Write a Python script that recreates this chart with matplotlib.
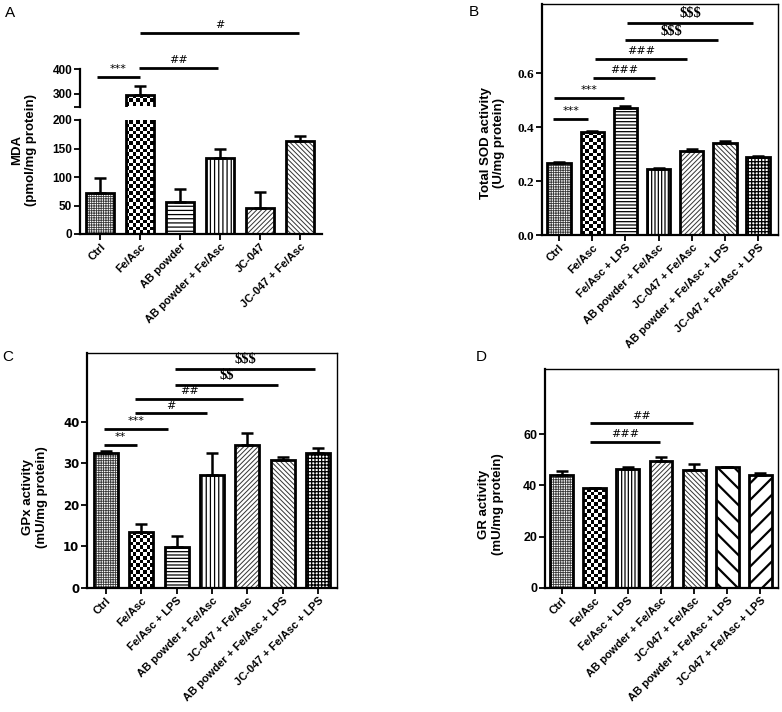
import numpy as np
import matplotlib
matplotlib.use('Agg')
import matplotlib.pyplot as plt

# ---------------- data ----------------
a_cats = ['Ctrl', 'Fe/Asc', 'AB powder', 'AB powder + Fe/Asc', 'JC-047', 'JC-047 + Fe/Asc']
a_mda = [72, 298, 57, 133, 46, 164]
a_mda_err = [26, 36, 22, 16, 28, 8]

cats7 = ['Ctrl', 'Fe/Asc', 'Fe/Asc + LPS', 'AB powder + Fe/Asc', 'JC-047 + Fe/Asc',
         'AB powder + Fe/Asc + LPS', 'JC-047 + Fe/Asc + LPS']
b_sod = [0.265, 0.383, 0.472, 0.244, 0.311, 0.342, 0.290]
b_sod_err = [0.005, 0.003, 0.006, 0.003, 0.007, 0.006, 0.004]
c_gpx = [32.4, 13.5, 9.9, 27.2, 34.5, 30.8, 32.5]
c_gpx_err = [0.6, 2.0, 2.5, 5.3, 2.8, 0.8, 1.2]
d_gr = [44.0, 38.9, 46.3, 49.6, 46.2, 47.1, 44.2]
d_gr_err = [1.6, 0.3, 0.8, 1.5, 2.2, 0.3, 0.6]

# significance brackets: (from, to, level, label)
a_sig = [(-0.08, 1.0, 368, '***'), (0.98, 2.95, 404, '##'), (1.0, 4.98, 544, '#')]
b_sig = [(-0.17, 0.88, 0.430, '***'), (-0.15, 1.96, 0.508, '***'),
         (1.03, 2.89, 0.581, '###'), (1.085, 3.85, 0.653, '###'),
         (1.99, 4.80, 0.721, '$$$'), (2.04, 5.86, 0.787, '$$$')]
c_sig = [(-0.05, 0.87, 34.4, '**'), (-0.05, 1.77, 38.2, '***'),
         (0.83, 2.85, 42.0, '#'), (0.83, 3.88, 45.5, '##'),
         (1.96, 4.87, 48.8, '$$'), (1.96, 5.91, 52.7, '$$$')]
d_sig = [(0.86, 2.96, 57.0, '###'), (0.86, 3.96, 64.3, '##')]

# ---------------- styles ----------------
CTRL = dict(hatch='+++++++', hc='#3a3a3a', hlw=0.6)
CHECK = dict(checker=True)
HLINE = dict(hatch='-----', hc='k', hlw=0.9)
HLINE_A = dict(hatch='----', hc='k', hlw=0.9)
VLINE = dict(hatch='||||', hc='k', hlw=0.9)
VLINE5 = dict(hatch='|||||', hc='k', hlw=0.9)
FINE_F = dict(hatch='///////', hc='#333333', hlw=0.7)
FINE_B = dict(hatch='\\\\\\\\\\\\\\', hc='#333333', hlw=0.7)
GRID = dict(hatch='+++++', hc='k', hlw=0.9)
WIDE_B = dict(hatch='\\\\', hc='k', hlw=1.6)
WIDE_F = dict(hatch='//', hc='k', hlw=1.6)

a_styles = [CTRL, CHECK, HLINE_A, VLINE, FINE_F, FINE_B]
b_styles = [CTRL, CHECK, HLINE, VLINE5, FINE_F, FINE_B, GRID]
c_styles = [CTRL, CHECK, HLINE, VLINE, FINE_F, FINE_B, GRID]
d_styles = [CTRL, CHECK, VLINE5, FINE_F, FINE_B, WIDE_B, WIDE_F]

W, H = 782, 712
fig = plt.figure(figsize=(W / 100, H / 100), dpi=100)


def rect(l, t, r, b):
    return [l / W, 1 - b / H, (r - l) / W, (b - t) / H]


def checker(ax, bar, cell=3.6):
    x0, y0 = bar.get_x(), bar.get_y()
    w, h = bar.get_width(), bar.get_height()
    ylo, yhi = ax.get_ylim()
    yb, yt = max(y0, ylo), min(y0 + h, yhi)
    if yt <= yb:
        return
    p0 = ax.transData.transform((x0, yb))
    p1 = ax.transData.transform((x0 + w, yt))
    nc = max(1, int(round((p1[0] - p0[0]) / cell)))
    nr = max(1, int(round((p1[1] - p0[1]) / cell)))
    arr = (np.add.outer(np.arange(nr), np.arange(nc)) % 2).astype(float)
    im = ax.imshow(arr, extent=(x0, x0 + w, yb, yt), cmap='gray', vmin=0, vmax=1,
                   interpolation='nearest', aspect='auto', origin='lower', zorder=1.5)
    im.set_clip_path(bar)


def draw_bars(ax, vals, errs, styles, width):
    x = np.arange(len(vals))
    for i, (v, e, st) in enumerate(zip(vals, errs, styles)):
        if st.get('checker'):
            b = ax.bar(x[i], v, width, color='white', linewidth=0, zorder=1)
            checker(ax, b[0])
        else:
            with plt.rc_context({'hatch.linewidth': st['hlw']}):
                b = ax.bar(x[i], v, width, color='white', edgecolor=st['hc'],
                           hatch=st['hatch'], linewidth=0, zorder=1)
                for p in b:
                    if hasattr(p, 'set_hatch_linewidth'):
                        p.set_hatch_linewidth(st['hlw'])
    ax.bar(x, vals, width, fill=False, edgecolor='k', linewidth=2.0, zorder=3)
    ax.errorbar(x, vals, yerr=[np.zeros(len(vals)), errs], fmt='none', ecolor='k',
                elinewidth=1.8, capsize=4.5, capthick=1.8, zorder=4)


def sigs(ax, items, fs_map):
    for x1, x2, y, lab in items:
        ax.plot([x1, x2], [y, y], color='k', lw=2.0, clip_on=False, zorder=5,
                solid_capstyle='butt')
        fam, size, weight, style = fs_map[lab[0]]
        ax.annotate(lab.replace('$', r'\$'), xy=((x1 + x2) / 2, y), xytext=(0, 2.0),
                    textcoords='offset points', ha='center', va='bottom',
                    fontsize=size, family=fam, fontweight=weight, fontstyle=style,
                    annotation_clip=False)


def style_ax(ax, box=True, tickfont=('Liberation Sans', 8.5)):
    for s in ['left', 'bottom']:
        ax.spines[s].set_linewidth(1.6)
    for s in ['top', 'right']:
        if box:
            ax.spines[s].set_linewidth(1.0)
        else:
            ax.spines[s].set_visible(False)
    ax.tick_params(axis='both', direction='out', length=4, width=1.3, pad=1.5)
    for lab in ax.get_yticklabels():
        lab.set_family(tickfont[0])
        lab.set_fontsize(tickfont[1])
        lab.set_fontweight('bold')


def xlabels(ax, cats):
    ax.set_xticks(np.arange(len(cats)))
    ax.set_xticklabels(cats, rotation=45, ha='right', va='top', rotation_mode='anchor',
                       family='Liberation Sans', fontweight='bold', fontsize=8)


fs_map = {'*': ('DejaVu Sans', 8, 'normal', 'normal'),
          '#': ('DejaVu Sans', 8, 'normal', 'normal'),
          '$': ('Liberation Serif', 10.5, 'bold', 'normal')}

# ---------------- Panel A (broken axis) ----------------
axl = fig.add_axes(rect(80, 120, 322, 234))
axu = fig.add_axes(rect(80, 69, 322, 106.5))
for ax, lim in [(axl, (0, 200)), (axu, (250, 400))]:
    ax.set_xlim(-0.5, 5.55)
    ax.set_ylim(*lim)
    ax.patch.set_alpha(0)
for ax in (axl, axu):
    draw_bars(ax, a_mda, a_mda_err, a_styles, 0.68)
axl.set_yticks([0, 50, 100, 150, 200])
axu.set_yticks([300, 400])
axu.set_yticks([250], minor=True)
axu.tick_params(axis='y', which='minor', length=4, width=1.3)
style_ax(axl, box=False)
style_ax(axu, box=False)
axu.spines['bottom'].set_visible(False)
axu.set_xticks([])
xlabels(axl, a_cats)
sigs(axu, a_sig, fs_map)
fig.text(24 / W, 1 - 150 / H, 'MDA\n(pmol/mg protein)', rotation=90, ha='center',
         va='center', family='Liberation Sans', fontweight='bold', fontsize=9.5,
         multialignment='center')

# ---------------- Panel B ----------------
axb = fig.add_axes(rect(542, 4, 778, 235))
axb.set_xlim(-0.51, 6.6)
axb.set_ylim(0, 0.856)
draw_bars(axb, b_sod, b_sod_err, b_styles, 0.70)
axb.set_yticks([0.0, 0.2, 0.4, 0.6])
axb.set_yticklabels(['0.0', '0.2', '0.4', '0.6'])
style_ax(axb, tickfont=('Liberation Serif', 9.5))
xlabels(axb, cats7)
sigs(axb, b_sig, fs_map)
fig.text(492.5 / W, 1 - 143 / H, 'Total SOD activity\n(U/mg protein)', rotation=90,
         ha='center', va='center', family='Liberation Sans', fontweight='bold',
         fontsize=9.5, multialignment='center')

# ---------------- Panel C ----------------
axc = fig.add_axes(rect(87, 353, 337, 588))
axc.set_xlim(-0.53, 6.53)
axc.set_ylim(0, 56.5)
draw_bars(axc, c_gpx, c_gpx_err, c_styles, 0.68)
axc.set_yticks([0, 10, 20, 30, 40])
style_ax(axc, tickfont=('DejaVu Sans', 8.5))
xlabels(axc, cats7)
sigs(axc, c_sig, fs_map)
fig.text(35 / W, 1 - 497 / H, 'GPx activity\n(mU/mg protein)', rotation=90,
         ha='center', va='center', family='Liberation Sans', fontweight='bold',
         fontsize=9.5, multialignment='center')

# ---------------- Panel D ----------------
axd = fig.add_axes(rect(545, 368.7, 778, 587.7))
axd.set_xlim(-0.5, 6.53)
axd.set_ylim(0, 85.7)
draw_bars(axd, d_gr, d_gr_err, d_styles, 0.69)
axd.set_yticks([0, 20, 40, 60])
style_ax(axd, tickfont=('Liberation Sans', 9))
xlabels(axd, cats7)
sigs(axd, d_sig, fs_map)
fig.text(491 / W, 1 - 504 / H, 'GR activity\n(mU/mg protein)', rotation=90,
         ha='center', va='center', family='Liberation Sans', fontweight='bold',
         fontsize=9.5, multialignment='center')

# panel letters
for lab, (x, y) in {'A': (10, 13), 'B': (474, 12), 'C': (8, 357), 'D': (481, 357)}.items():
    fig.text(x / W, 1 - y / H, lab, ha='center', va='center', family='Liberation Sans',
             fontsize=11)

fig.savefig('out.png', dpi=100)
